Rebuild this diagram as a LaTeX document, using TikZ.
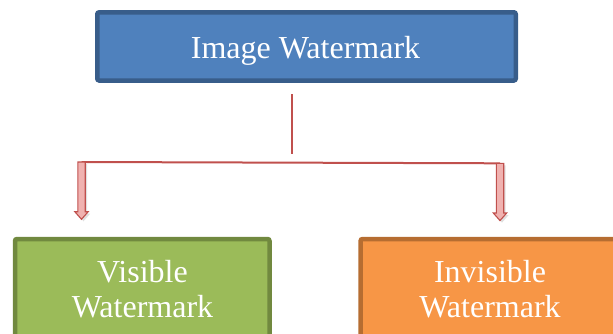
\documentclass[tikz,border=0pt]{standalone}
\usepackage{fontspec}
\setmainfont{Liberation Serif}
\definecolor{boxblue}{HTML}{4F81BD}
\definecolor{edgeblue}{HTML}{385D8A}
\definecolor{boxgreen}{HTML}{9BBB59}
\definecolor{edgegreen}{HTML}{71893F}
\definecolor{boxorange}{HTML}{F79646}
\definecolor{edgeorange}{HTML}{B66D31}
\definecolor{linkred}{HTML}{C0504D}
\definecolor{linkpink}{HTML}{F0B2B0}
\tikzset{
  catbox/.style={draw, line width=4.5pt, rounded corners=2pt, inner sep=0pt},
  boxtext/.style={text=white, anchor=base, inner sep=0pt,
                  font=\fontsize{32}{35}\selectfont},
  link/.style={draw=linkred, line width=2pt},
  hollowdown/.pic={
    % soft shadow, then the outlined double-line arrow
    \fill[black, opacity=0.12, shift={(2,2)}]
      (-3.7,0) -- (-3.7,49.7) -- (-6.7,49.7) -- (0,57.3) -- (6.7,49.7) -- (3.7,49.7) -- (3.7,0) -- cycle;
    \filldraw[draw=linkred, fill=linkpink, line width=1.1pt, line join=miter]
      (-3.7,0) -- (-3.7,49.7) -- (-6.7,49.7) -- (0,57.3) -- (6.7,49.7) -- (3.7,49.7) -- (3.7,0) -- cycle;
  }
}
\begin{document}
\begin{tikzpicture}[x=1pt, y=-1pt]
  \useasboundingbox (0,0) rectangle (613,334);
  \clip (0,0) rectangle (613,334);

  % root box
  \node[catbox, draw=edgeblue, fill=boxblue, minimum width=418.5pt, minimum height=68.25pt]
    (root) at (306.5,46.4) {};
  \node[boxtext] (roottext) at (305.5,59) {Image Watermark};

  % category boxes (cut by the lower edge)
  \node[catbox, draw=edgegreen, fill=boxgreen, minimum width=254.5pt, minimum height=110pt]
    (visible) at (142.25,294) {};
  \node[catbox, draw=edgeorange, fill=boxorange, minimum width=259.4pt, minimum height=110pt]
    (invisible) at (490.3,294) {};

  \node[boxtext] (vis1) at (142.5,282) {Visible};
  \node[boxtext] (vis2) at (142.5,317) {Watermark};
  \node[boxtext] (inv1) at (490,282) {Invisible};
  \node[boxtext] (inv2) at (490,317) {Watermark};

  % connector tree
  \coordinate (stemtop) at (291.7,94.5);
  \coordinate (stembot) at (291.7,154.3);
  \coordinate (splitL) at (81.5,162);
  \coordinate (splitR) at (500,163.3);
  \draw[link] (stemtop) -- (stembot);
  \draw[link] (splitL) -- (splitR);

  \pic at (splitL) {hollowdown};
  \pic at (splitR) {hollowdown};
\end{tikzpicture}
\end{document}
